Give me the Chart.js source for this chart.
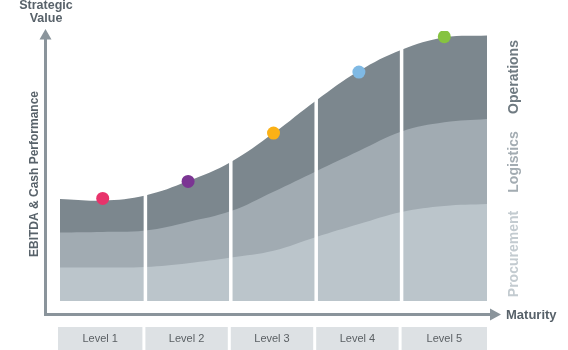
<!DOCTYPE html>
<html><head><meta charset="utf-8">
<script src="https://cdn.jsdelivr.net/npm/chart.js@4"></script>
<style>html,body{margin:0;padding:0;background:#fff;overflow:hidden}canvas{display:block}</style>
</head><body>
<canvas id="c" width="568" height="350" style="width:568px;height:350px"></canvas>
<script>
// Maturity positions (0 = start of Level 1, 5 = end of Level 5)
const maturityX   = [0, 0.5, 1, 1.5, 2, 2.5, 3, 3.5, 4, 4.5, 5];
// Cumulative layer tops (strategic value, 0-100)
const procurement = [12.4, 12.4, 12.6, 14.0, 16.1, 18.6, 23.7, 28.5, 33.0, 35.2, 35.9];
const logistics   = [25.4, 25.6, 26.1, 29.3, 33.3, 40.5, 48.1, 55.6, 62.8, 66.2, 67.4];
const operations  = [37.8, 37.2, 39.1, 44.4, 51.5, 62.2, 74.3, 85.2, 93.1, 97.6, 98.3];
const layerLabels = ['Procurement', 'Logistics', 'Operations'];
const levelLabels = ['Level 1', 'Level 2', 'Level 3', 'Level 4', 'Level 5'];
const milestoneX  = [0.5, 1.5, 2.5, 3.5, 4.5];
const milestoneY  = [38.0, 44.3, 62.2, 84.8, 97.9];
const milestoneColors = ['#e8336b', '#7b3593', '#fbb116', '#7fb9e4', '#86c340'];

const FONT = '"Liberation Sans", Arial, Helvetica, sans-serif';
const layerColors = ['#bbc5cb', '#a1abb2', '#7c878e'];
const layerTextColors = ['#c3cbd0', '#a3acb2', '#6f7a81'];
const axisColor = '#8a949b';
const titleColor = '#58626a';

function pts(ys){ return maturityX.map((x,i)=>({x, y: ys[i]})); }

const deco = {
  id: 'deco',
  afterDatasetsDraw(chart){
    const {ctx, chartArea:a, scales:{x}} = chart;
    ctx.save();
    ctx.strokeStyle = '#ffffff';
    ctx.lineWidth = 3.5;
    for (let i = 1; i < levelLabels.length; i++){
      const px = x.getPixelForValue(i);
      ctx.beginPath(); ctx.moveTo(px, a.top); ctx.lineTo(px, a.bottom + 1); ctx.stroke();
    }
    ctx.restore();
  },
  afterDraw(chart){
    const {ctx, scales:{x}} = chart;
    ctx.save();
    // axes
    const ax = 45.5, ay = 314.5;
    ctx.strokeStyle = axisColor; ctx.fillStyle = axisColor; ctx.lineWidth = 3;
    ctx.beginPath(); ctx.moveTo(ax, 38); ctx.lineTo(ax, ay); ctx.lineTo(490, ay); ctx.stroke();
    ctx.beginPath(); ctx.moveTo(ax, 29); ctx.lineTo(ax - 6, 39.5); ctx.lineTo(ax + 6, 39.5); ctx.closePath(); ctx.fill();
    ctx.beginPath(); ctx.moveTo(501, ay); ctx.lineTo(490, ay - 6); ctx.lineTo(490, ay + 6); ctx.closePath(); ctx.fill();

    // axis titles
    ctx.fillStyle = titleColor; ctx.textBaseline = 'middle'; ctx.textAlign = 'center';
    ctx.font = 'bold 12.5px ' + FONT;
    ctx.fillText('Strategic', 46, 6);
    ctx.fillText('Value', 46, 19);
    ctx.textAlign = 'left';
    ctx.font = 'bold 13px ' + FONT;
    ctx.fillText('Maturity', 506, 315);
    ctx.save();
    ctx.translate(35, 174); ctx.rotate(-Math.PI/2);
    ctx.textAlign = 'center'; ctx.font = 'bold 12px ' + FONT;
    ctx.fillText('EBITDA & Cash Performance', 0, 0);
    ctx.restore();

    // layer labels on the right
    const labelY = [254, 162, 77];
    ctx.font = 'bold 14px ' + FONT;
    layerLabels.forEach((t, i) => {
      ctx.save();
      ctx.translate(514, labelY[i]); ctx.rotate(-Math.PI/2);
      ctx.textAlign = 'center'; ctx.fillStyle = layerTextColors[i];
      ctx.fillText(t, 0, 0);
      ctx.restore();
    });

    // level boxes
    ctx.font = '11px ' + FONT; ctx.textAlign = 'center';
    levelLabels.forEach((t, i) => {
      const l = x.getPixelForValue(i) + (i === 0 ? -2 : 0);
      const r = x.getPixelForValue(i + 1) - (i === levelLabels.length - 1 ? 0 : 3);
      ctx.fillStyle = '#dde1e4';
      ctx.fillRect(l, 327, r - l, 23);
      ctx.fillStyle = '#5a5f63';
      ctx.fillText(t, (l + r) / 2, 339);
    });
    ctx.restore();
  }
};

new Chart(document.getElementById('c'), {
  type: 'line',
  data: {
    datasets: [
      { label: 'Milestones', data: milestoneX.map((x,i)=>({x, y: milestoneY[i]})), showLine: false,
        pointRadius: 6.5, pointHoverRadius: 6.5, pointBackgroundColor: milestoneColors, pointBorderWidth: 0, fill: false },
      { label: layerLabels[0], data: pts(procurement), backgroundColor: layerColors[0], fill: 'origin', borderWidth: 0, pointRadius: 0, tension: 0.4 },
      { label: layerLabels[1], data: pts(logistics), backgroundColor: layerColors[1], fill: 'origin', borderWidth: 0, pointRadius: 0, tension: 0.4 },
      { label: layerLabels[2], data: pts(operations), backgroundColor: layerColors[2], fill: 'origin', borderWidth: 0, pointRadius: 0, tension: 0.4 }
    ]
  },
  options: {
    responsive: false, animation: false, events: [],
    layout: { padding: { left: 60, right: 81, top: 31, bottom: 49 } },
    scales: {
      x: { type: 'linear', min: 0, max: 5, display: false },
      y: { type: 'linear', min: 0, max: 100, display: false }
    },
    plugins: { legend: { display: false }, tooltip: { enabled: false } }
  },
  plugins: [deco]
});
</script>
</body></html>
